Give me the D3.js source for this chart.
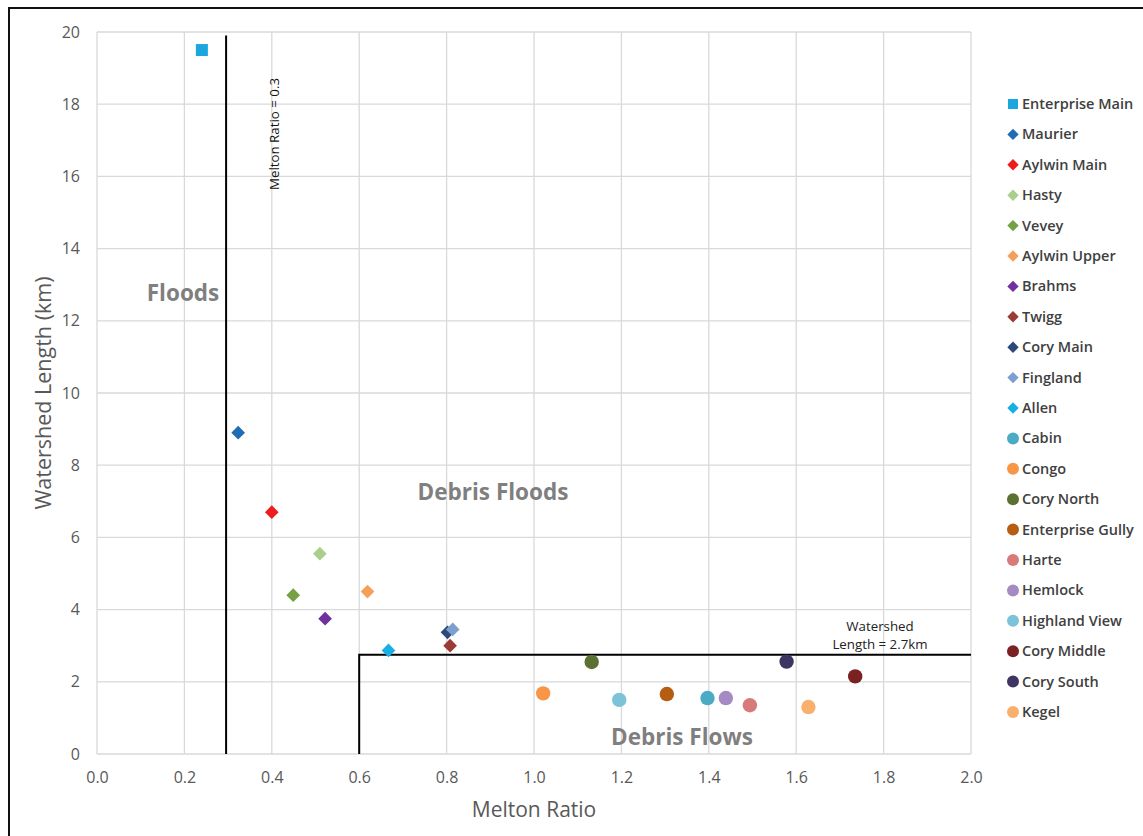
<!doctype html>
<html>
  <head>
    <meta charset="utf-8">
    <script src="https://cdn.jsdelivr.net/npm/d3@7"></script>
    <title>Melton ratio vs watershed length</title>
    <style>
      body { margin: 0; background: #fff; }
      svg { display: block; font-family: "Open Sans", Lato, sans-serif; }
    </style>
  </head>
  <body>
    <div id="chart"></div>
    <script>
      // watersheds, in legend order
      const names = ["Enterprise Main", "Maurier", "Aylwin Main", "Hasty", "Vevey", "Aylwin Upper",
        "Brahms", "Twigg", "Cory Main", "Fingland", "Allen", "Cabin", "Congo", "Cory North",
        "Enterprise Gully", "Harte", "Hemlock", "Highland View", "Cory Middle", "Cory South", "Kegel"];
      const meltonRatio = [0.240, 0.323, 0.400, 0.510, 0.449, 0.619, 0.522, 0.808, 0.802, 0.814, 0.667,
        1.397, 1.021, 1.132, 1.304, 1.494, 1.439, 1.195, 1.735, 1.578, 1.628];
      const lengthKm = [19.5, 8.9, 6.7, 5.55, 4.4, 4.5, 3.75, 3.0, 3.37, 3.45, 2.87,
        1.55, 1.68, 2.55, 1.66, 1.35, 1.55, 1.5, 2.15, 2.56, 1.3];
      const shapes = ["square", "diamond", "diamond", "diamond", "diamond", "diamond", "diamond", "diamond",
        "diamond", "diamond", "diamond", "circle", "circle", "circle", "circle", "circle", "circle",
        "circle", "circle", "circle", "circle"];
      const colors = ["#1ba6df", "#1f6eb3", "#ee1d1d", "#a9cf8c", "#76a044", "#f5a05a", "#7030a0",
        "#9b3b36", "#2b4a7b", "#7d9fd0", "#18afe5", "#4babc5", "#f79646", "#5b7131", "#b65d12",
        "#d67a7a", "#a68ac4", "#7cc3da", "#7a2222", "#3e3562", "#f8b06c"];
      const xTicks = [0, 0.2, 0.4, 0.6, 0.8, 1.0, 1.2, 1.4, 1.6, 1.8, 2.0];
      const yTicks = [0, 2, 4, 6, 8, 10, 12, 14, 16, 18, 20];
      const meltonLimit = 0.3, lengthLimit = 2.75, flowRatio = 0.6;

      const W = 1143, H = 836;
      const m = {left: 97, right: 172, top: 32, bottom: 82};

      const svg = d3.select("#chart").append("svg")
        .attr("width", W).attr("height", H);

      // outer frame (only left and top edges show in the crop)
      svg.append("path")
        .attr("d", `M9,${H + 5}V8H${W + 5}`)
        .attr("fill", "none").attr("stroke", "#111").attr("stroke-width", 2);

      const x = d3.scaleLinear().domain([0, 2]).range([m.left, W - m.right]);
      const y = d3.scaleLinear().domain([0, 20]).range([H - m.bottom, m.top]);

      // grid
      svg.append("g").selectAll("line").data(xTicks).join("line")
        .attr("x1", d => x(d)).attr("x2", d => x(d))
        .attr("y1", y(0)).attr("y2", y(20))
        .attr("stroke", "#d9d9d9").attr("stroke-width", 1.3);
      svg.append("g").selectAll("line").data(yTicks).join("line")
        .attr("x1", x(0)).attr("x2", x(2))
        .attr("y1", d => y(d)).attr("y2", d => y(d))
        .attr("stroke", "#d9d9d9").attr("stroke-width", 1.3);

      // axes (labels only)
      const xAxis = svg.append("g").attr("transform", `translate(0,${y(0)})`)
        .call(d3.axisBottom(x).tickValues(xTicks).tickFormat(d3.format(".1f")).tickSize(0).tickPadding(18));
      const yAxis = svg.append("g").attr("transform", `translate(${x(0)},0)`)
        .call(d3.axisLeft(y).tickValues(yTicks).tickSize(0).tickPadding(17));
      [xAxis, yAxis].forEach(a => {
        a.select(".domain").remove();
        a.selectAll("text").attr("fill", "#595959").attr("font-size", 16)
          .attr("font-family", "'Open Sans', sans-serif");
      });

      svg.append("text")
        .attr("x", x(1)).attr("y", 817)
        .attr("text-anchor", "middle").attr("fill", "#595959").attr("font-size", 21)
        .text("Melton Ratio");
      svg.append("text")
        .attr("transform", `translate(51,${y(10)}) rotate(-90)`)
        .attr("text-anchor", "middle").attr("fill", "#595959").attr("font-size", 21.5)
        .text("Watershed Length (km)");

      // threshold lines
      svg.append("line")
        .attr("x1", x(meltonLimit) - 2).attr("x2", x(meltonLimit) - 2)
        .attr("y1", y(0)).attr("y2", y(19.9))
        .attr("stroke", "#000").attr("stroke-width", 2);
      svg.append("path")
        .attr("d", `M${x(flowRatio)},${y(0)}V${y(lengthLimit)}H${x(2)}`)
        .attr("fill", "none").attr("stroke", "#000").attr("stroke-width", 2);

      svg.append("text")
        .attr("transform", `translate(279,134) rotate(-90)`)
        .attr("text-anchor", "middle").attr("font-size", 13.3).attr("fill", "#111")
        .text("Melton Ratio = 0.3");
      const ws = svg.append("text")
        .attr("text-anchor", "middle").attr("font-size", 13.3).attr("fill", "#222");
      ws.append("tspan").attr("x", 880).attr("y", 631).text("Watershed");
      ws.append("tspan").attr("x", 880).attr("y", 649).text("Length = 2.7km");

      // region labels
      const regions = [["Floods", 183, 301], ["Debris Floods", 493, 500], ["Debris Flows", 682, 745]];
      svg.append("g").selectAll("text").data(regions).join("text")
        .attr("x", d => d[1]).attr("y", d => d[2])
        .attr("text-anchor", "middle").attr("font-size", 22.5).attr("font-weight", "bold")
        .attr("fill", "#7f7f7f")
        .text(d => d[0]);

      const data = names.map((n, i) => ({name: n, mr: meltonRatio[i], len: lengthKm[i],
        shape: shapes[i], color: colors[i]}));

      function marker(sel, s) {
        sel.each(function(d) {
          const g = d3.select(this);
          if (d.shape === "square") {
            g.append("rect").attr("x", -s * 0.5).attr("y", -s * 0.5)
              .attr("width", s).attr("height", s).attr("fill", d.color);
          } else if (d.shape === "diamond") {
            const r = s * 0.57;
            g.append("path").attr("d", `M0,${-r}L${r},0L0,${r}L${-r},0Z`).attr("fill", d.color);
          } else {
            g.append("circle").attr("r", s * 0.6).attr("fill", d.color);
          }
        });
      }

      svg.append("g").selectAll("g").data(data).join("g")
        .attr("transform", d => `translate(${x(d.mr)},${y(d.len)})`)
        .call(marker, 12);

      // legend
      const legend = svg.append("g").selectAll("g").data(data).join("g")
        .attr("transform", (d, i) => `translate(1013,${104 + i * 30.4})`);
      legend.append("g").call(marker, 10);
      legend.append("text")
        .attr("x", 9).attr("y", 5)
        .attr("font-size", 14.5).attr("font-weight", 600).attr("fill", "#404040")
        .text(d => d.name);
    </script>
  </body>
</html>
